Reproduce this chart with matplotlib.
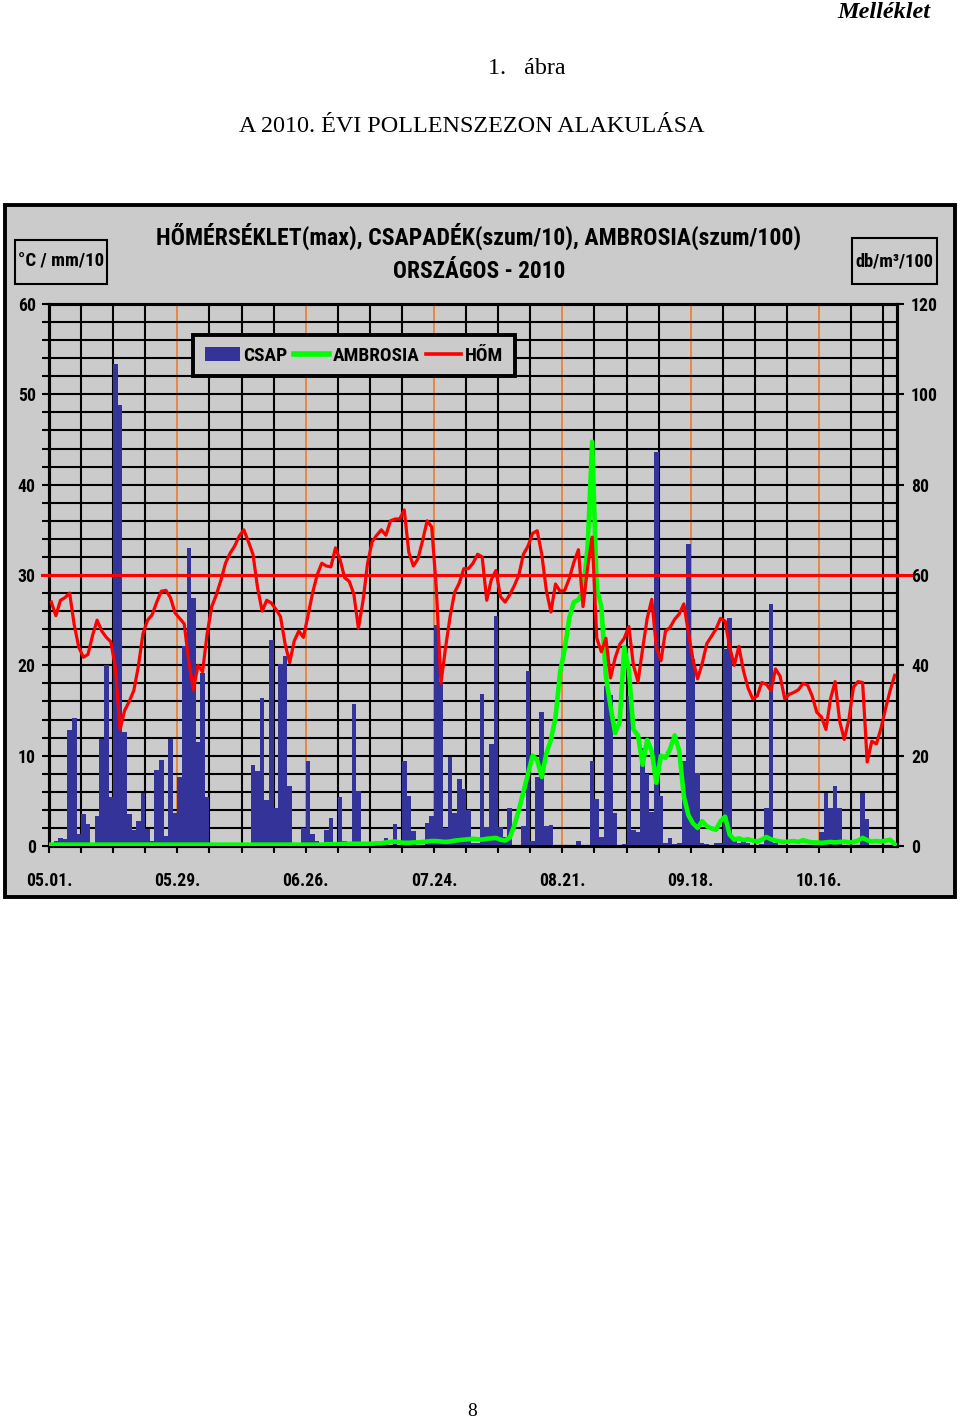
import matplotlib
matplotlib.use('Agg')
import matplotlib.pyplot as plt
import numpy as np
from matplotlib.patches import Rectangle, Patch
from matplotlib.lines import Line2D
from matplotlib.ticker import MultipleLocator, FixedLocator
from matplotlib import font_manager as fm

# ---------------- data ----------------
tick_days = [0, 28, 56, 84, 112, 140, 168]
tick_labels = ["05.01.", "05.29.", "06.26.", "07.24.", "08.21.", "09.18.", "10.16."]

# daily precipitation (mm/10), 05.01 - 11.01
precip = [
    0, 0.5, 0.9, 0.8, 12.8, 14.2, 1.3, 3.5, 2.4, 0,
    3.3, 11.8, 20.0, 5.4, 53.4, 48.8, 12.6, 3.5, 1.8, 2.8,
    5.9, 1.9, 0.5, 8.4, 9.5, 1.1, 11.9, 3.6, 7.6, 22.1,
    33.0, 27.4, 11.5, 19.2, 5.4, 0, 0, 0, 0, 0,
    0, 0, 0, 0.3, 9.0, 8.3, 16.4, 5.1, 22.8, 4.2,
    20.2, 21.0, 6.6, 0, 0, 2.0, 9.4, 1.3, 0.6, 0.2,
    1.8, 3.1, 0, 5.4, 0.5, 0, 15.7, 6.1, 0, 0,
    0, 0, 0.2, 0.9, 0, 2.4, 0, 9.4, 5.5, 1.7,
    0, 0, 2.6, 3.3, 24.5, 17.9, 2.0, 9.9, 3.7, 7.4,
    6.3, 4.0, 0.3, 0.3, 16.8, 2.1, 11.3, 25.5, 2.1, 1.0,
    4.2, 0, 0, 2.2, 19.4, 0.5, 7.6, 14.8, 2.2, 2.3,
    0, 0, 0, 0, 0, 0.6, 0, 0, 9.4, 5.2,
    1.0, 17.7, 16.7, 3.7, 0, 0.2, 16.6, 1.8, 1.5, 10.8,
    8.0, 3.8, 43.6, 5.5, 0.3, 0.9, 0.2, 0.3, 9.4, 33.4,
    20.7, 8.1, 0.3, 0.2, 0, 0.3, 0.3, 21.8, 25.2, 0.5,
    0.3, 0.8, 0.3, 0, 0, 0.2, 4.2, 26.8, 0.3, 0,
    0, 0, 0, 0, 0, 0, 0, 0, 1.5, 5.9,
    4.2, 6.6, 4.2, 0, 0, 0, 0, 5.9, 3.0, 0,
    0, 0, 0, 0, 0,
]

# daily ambrosia pollen (db/m3/100)
ambrosia = [
    0.3, 0.3, 0.3, 0.3, 0.3, 0.3, 0.3, 0.3, 0.3, 0.3,
    0.3, 0.3, 0.3, 0.3, 0.3, 0.3, 0.3, 0.3, 0.3, 0.3,
    0.3, 0.3, 0.3, 0.3, 0.3, 0.3, 0.3, 0.3, 0.3, 0.3,
    0.3, 0.3, 0.3, 0.3, 0.3, 0.3, 0.3, 0.3, 0.3, 0.3,
    0.3, 0.3, 0.3, 0.3, 0.3, 0.3, 0.3, 0.3, 0.3, 0.3,
    0.3, 0.3, 0.3, 0.3, 0.3, 0.3, 0.3, 0.3, 0.3, 0.3,
    0.4, 0.4, 0.4, 0.4, 0.5, 0.5, 0.5, 0.5, 0.5, 0.5,
    0.5, 0.6, 0.6, 0.8, 0.9, 1.0, 0.8, 0.7, 0.7, 0.8,
    0.8, 0.9, 1.0, 1.1, 1.1, 1.0, 0.9, 1.0, 1.2, 1.3,
    1.4, 1.5, 1.6, 1.5, 1.4, 1.6, 1.7, 1.8, 1.4, 1.2,
    1.8, 4.5, 8.0, 12.0, 16.0, 20.0, 19.0, 15.3, 20.5, 23.5,
    28.5, 38.5, 43.5, 50.5, 54.0, 54.5, 56.5, 66.0, 89.5, 57.0,
    53.0, 37.5, 31.0, 25.0, 27.5, 44.0, 39.0, 25.8, 24.5, 18.0,
    23.5, 21.0, 14.0, 20.0, 19.5, 21.5, 24.5, 21.0, 11.0, 6.8,
    5.0, 4.0, 5.5, 4.4, 3.9, 3.6, 5.5, 6.5, 2.5, 1.4,
    1.7, 1.3, 1.5, 1.2, 1.0, 1.4, 2.0, 1.5, 1.2, 1.0,
    0.9, 1.0, 1.1, 0.9, 1.3, 1.0, 0.8, 0.8, 0.7, 0.8,
    0.9, 0.8, 0.9, 1.0, 0.8, 0.9, 1.2, 1.8, 1.3, 1.0,
    1.1, 1.0, 1.2, 1.4, 0.4,
]

# daily maximum temperature (°C)
temp = [
    27.0, 25.5, 27.2, 27.5, 28.0, 24.5, 22.0, 20.9, 21.2, 23.3,
    25.0, 23.8, 23.1, 22.6, 19.7, 12.9, 15.0, 16.0, 17.2, 19.9,
    23.5, 25.0, 25.6, 27.0, 28.2, 28.3, 27.5, 25.8, 25.2, 24.6,
    20.4, 17.3, 20.0, 19.3, 23.5, 26.5, 27.8, 29.4, 31.3, 32.4,
    33.2, 34.3, 35.0, 33.7, 32.3, 28.6, 26.0, 27.2, 26.9, 26.2,
    25.4, 22.4, 20.3, 22.7, 23.8, 23.1, 25.5, 28.0, 30.0, 31.3,
    31.0, 30.9, 33.0, 31.7, 29.7, 29.3, 27.9, 24.1, 27.1, 31.3,
    33.7, 34.4, 35.0, 34.4, 36.0, 36.2, 36.2, 37.2, 32.5, 31.0,
    31.8, 33.8, 36.0, 35.3, 28.5, 18.0, 21.9, 25.4, 28.1, 29.1,
    30.7, 30.7, 31.3, 32.3, 32.0, 27.2, 29.5, 30.5, 27.6, 27.0,
    27.8, 28.8, 30.0, 32.3, 33.2, 34.6, 34.9, 32.3, 28.3, 25.9,
    29.0, 28.2, 28.3, 29.6, 31.4, 32.8, 26.5, 30.8, 34.2, 23.0,
    21.5, 23.0, 18.6, 20.8, 22.3, 23.0, 24.3, 20.0, 18.2, 21.8,
    25.2, 27.3, 22.0, 20.5, 23.8, 24.2, 25.1, 25.7, 26.8, 23.6,
    20.6, 18.5, 20.2, 22.4, 23.2, 24.0, 25.2, 24.9, 22.0, 20.0,
    22.1, 19.4, 17.5, 16.3, 16.6, 18.1, 17.9, 17.2, 19.6, 18.8,
    16.3, 16.8, 17.0, 17.3, 18.0, 17.8, 16.6, 14.8, 14.3, 12.9,
    16.3, 18.2, 13.8, 11.8, 14.0, 17.6, 18.2, 18.1, 9.3, 11.6,
    11.3, 13.0, 15.2, 17.2, 18.9,
]

threshold = 30

# ---------------- style ----------------
W, H = 960, 1421
GREY = '#CBCBCB'
BLUE = '#333399'
GREEN = '#00FF00'
RED = '#FF0000'
ORANGE = '#F08030'
SERIF = ['Liberation Serif', 'DejaVu Serif']


def _find_narrow_bold():
    best = None
    for f in fm.fontManager.ttflist:
        nm = f.name.lower()
        fn = f.fname.lower()
        st = str(f.stretch).lower()
        narrow = ('narrow' in nm or 'condensed' in nm or 'condensed' in st
                  or 'narrow' in fn or 'condensed' in fn)
        if not narrow or 'extra' in st or 'ultra' in st or 'extra' in fn or 'ultra' in fn:
            continue
        w = f.weight
        try:
            w = int(w)
        except (TypeError, ValueError):
            w = 700 if 'bold' in str(w).lower() else 400
        if w < 600 or w > 800 or f.style != 'normal':
            continue
        score = 0
        if 'liberation' in nm:
            score += 10
        elif 'roboto' in nm:
            score += 8
        elif 'noto sans' in nm and 'mono' not in nm and 'cjk' not in nm:
            score += 7
        elif 'open sans' in nm:
            score += 6
        elif 'dejavu' in nm:
            score += 1
        if 'semi' in st or 'semi' in fn:
            score -= 2
        if best is None or score > best[0]:
            best = (score, f.fname)
    return best[1] if best else None


NARROW_FILE = _find_narrow_bold()


def nf(size):
    if NARROW_FILE:
        return fm.FontProperties(fname=NARROW_FILE, size=size)
    return fm.FontProperties(family=['Liberation Sans', 'DejaVu Sans'], weight='bold', size=size)


def fx(px):
    return px / W


def fy(py):
    return 1 - py / H


fig = plt.figure(figsize=(9.6, 14.21), dpi=100)
fig.patch.set_facecolor('white')
renderer = fig.canvas.get_renderer()


def fit(s, target_px, base=14.0):
    t = fig.text(0, 0, s, fontproperties=nf(base))
    w = t.get_window_extent(renderer=renderer).width
    t.remove()
    return base * target_px / w


S_TITLE1 = fit("HŐMÉRSÉKLET(max), CSAPADÉK(szum/10), AMBROSIA(szum/100)", 648)
S_TITLE2 = fit("ORSZÁGOS - 2010", 172)
S_UNIT1 = fit("°C / mm/10", 86)
S_UNIT2 = fit("db/m³/100", 78)
S_LEG = fit("AMBROSIA", 87)
S_TICK = fit("05.01.", 46)

# header texts
fig.text(fx(930), fy(12), "Melléklet", ha='right', va='center', family=SERIF,
         weight='bold', style='italic', fontsize=17.5)
fig.text(fx(527), fy(68), "1.   ábra", ha='center', va='center', family=SERIF, fontsize=17.4)
fig.text(fx(472), fy(126), "A 2010. ÉVI POLLENSZEZON ALAKULÁSA", ha='center', va='center',
         family=SERIF, fontsize=17.4)
fig.text(fx(472), fy(1411), "8", ha='center', va='center', family=SERIF, fontsize=14)

# chart box (behind everything)
fig.patches.append(Rectangle((fx(5), fy(897)), fx(955) - fx(5), fy(205) - fy(897),
                             transform=fig.transFigure, facecolor=GREY, edgecolor='black',
                             linewidth=2.8, zorder=-10))

# chart titles
fig.text(fx(479), fy(236), "HŐMÉRSÉKLET(max), CSAPADÉK(szum/10), AMBROSIA(szum/100)",
         ha='center', va='center', fontproperties=nf(S_TITLE1))
fig.text(fx(479), fy(271), "ORSZÁGOS - 2010", ha='center', va='center',
         fontproperties=nf(S_TITLE2))

# unit boxes
for (x0, y0, x1, y1, label, sz) in [(15, 240, 107, 284, "°C / mm/10", S_UNIT1),
                                    (852, 238, 937, 284, "db/m³/100", S_UNIT2)]:
    fig.patches.append(Rectangle((fx(x0), fy(y1)), fx(x1) - fx(x0), fy(y0) - fy(y1),
                                 transform=fig.transFigure, facecolor=GREY,
                                 edgecolor='black', linewidth=1.5, zorder=-5))
    fig.text(fx((x0 + x1) / 2), fy((y0 + y1) / 2), label, ha='center', va='center',
             fontproperties=nf(sz))

# ---------------- axes ----------------
ax = fig.add_axes([fx(49), fy(846), fx(897) - fx(49), fy(304) - fy(846)])
ax.set_facecolor(GREY)
ndays = len(temp)
x = np.arange(ndays) + 0.5
ax.set_xlim(0, ndays)
ax.set_ylim(0, 60)
ax.set_axisbelow(True)

ax.xaxis.set_major_locator(FixedLocator(tick_days))
ax.set_xticklabels(tick_labels)
ax.xaxis.set_minor_locator(MultipleLocator(7))
ax.yaxis.set_major_locator(MultipleLocator(10))
ax.yaxis.set_minor_locator(MultipleLocator(2))

ax.grid(True, axis='x', which='minor', color='black', linewidth=1.5)
ax.grid(True, axis='x', which='major', color=ORANGE, linewidth=1.3)
ax.grid(True, axis='y', which='both', color='black', linewidth=1.5)

ax.tick_params(axis='both', which='both', direction='out', length=5, width=1.5, color='black')
ax.tick_params(axis='x', which='both', pad=14)
ax.tick_params(axis='y', which='both', pad=4.5)
for lab in ax.get_xticklabels() + ax.get_yticklabels():
    lab.set_fontproperties(nf(S_TICK))
for sp in ax.spines.values():
    sp.set_linewidth(2.2)
    sp.set_color('black')

ax.bar(x, precip, width=1.0, color=BLUE, linewidth=0, zorder=3)

# ambrosia on right axis
ax2 = ax.twinx()
ax2.set_ylim(0, 120)
ax2.yaxis.set_major_locator(MultipleLocator(20))
ax2.plot(x, ambrosia, color=GREEN, linewidth=3.3, solid_joinstyle='round', zorder=4)
ax2.tick_params(axis='y', which='both', direction='out', length=5, width=1.5, pad=5)
for lab in ax2.get_yticklabels():
    lab.set_fontproperties(nf(S_TICK))
for sp in ax2.spines.values():
    sp.set_linewidth(2.2)

# temperature on a third layer sharing the left scale
ax3 = ax.twinx()
ax3.set_ylim(ax.get_ylim())
ax3.axis('off')
ax3.plot(x, temp, color=RED, linewidth=2.3, solid_joinstyle='round', zorder=5)
ax3.axhline(threshold, xmin=-0.008, xmax=1.016, color=RED, linewidth=2.2, clip_on=False, zorder=4)

# legend
handles = [Patch(facecolor=BLUE, edgecolor='none'),
           Line2D([0], [0], color=GREEN, linewidth=4),
           Line2D([0], [0], color=RED, linewidth=2.6)]
leg_fs = S_LEG * 100 / 72.0
leg = fig.legend(handles, ["CSAP", "AMBROSIA", "HŐM"], loc='upper left',
                 bbox_to_anchor=(fx(193), fy(335)), ncol=3, frameon=True, fancybox=False,
                 edgecolor='black', facecolor=GREY, framealpha=1,
                 prop=nf(S_LEG),
                 handlelength=35 / leg_fs, handleheight=14 / leg_fs,
                 handletextpad=4 / leg_fs, columnspacing=6 / leg_fs,
                 borderpad=0.6, borderaxespad=0)
leg.get_frame().set_linewidth(2.8)

fig.savefig('out.png', dpi=100, facecolor='white')
